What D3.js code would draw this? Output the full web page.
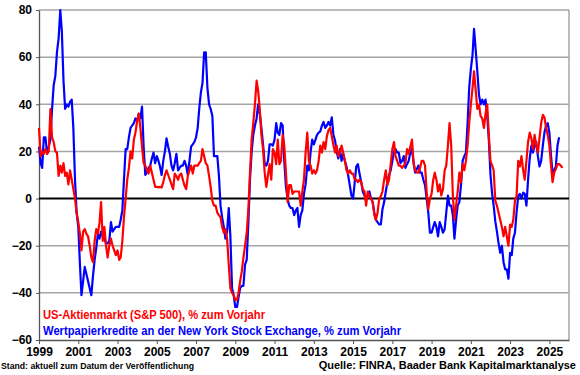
<!DOCTYPE html>
<html lang="de">
<head>
<meta charset="UTF-8">
<title>S&P 500 vs. Wertpapierkredite</title>
<script src="https://d3js.org/d3.v7.min.js"></script>
<style>
  body { margin: 0; background: #fff; }
  svg { display: block; font-family: "Liberation Sans", Arial, sans-serif; font-weight: bold; }
</style>
</head>
<body>
<script>
// monthly values, % yoy, starting January 1999
var startYear = 1999;

var sp500 = [
  30, 18, 20, 19, 21, 19, 20, 38, 26, 24, 20, 19.5,
  9.6, 14, 11, 15, 9.6, 11, 6, 12, 8, 4, 0, -6,
  -10, -15, -22, -14, -13, -15, -16, -20, -25, -27, -18, -13,
  -15, -10, -1.5, -18, -12, -20, -25, -20, -17, -20, -22, -24,
  -22, -26, -25, -18, -8, 0, 8, 13, 20, 17, 25, 28,
  33, 36, 30, 22, 15, 14, 12, 10.6, 14, 11, 8, 5,
  5, 4.7, 5, 4.7, 7, 10, 12, 10, 8, 6, 4, 10.6,
  9.5, 8, 10, 10.6, 8, 5.5, 4, 9.5, 12, 14, 10.6, 14,
  14, 14, 15, 16, 21, 18, 15, 14, 9.5, 4.7, -1, -3,
  -3, -6, -7, -8, -12, -14.5, -13, -17, -28, -38, -40, -41,
  -43, -43, -40, -35, -31, -25, -20, -14.5, -4.5, 11, 25, 32,
  40, 50, 46, 38, 27, 21, 11, 5, 10, 14.6, 8, 21,
  19.5, 14.6, 25, 14.6, 16, 27, 22.5, 11, -1.5, 5.7, 5.7, 2,
  3, 3, 3, 3, -3, 3, 8, 19.5, 28, 16, 14, 10.6,
  12, 10.6, 12, 16, 22.5, 19.5, 24, 21, 26.5, 29, 30, 26.5,
  22.5, 19.5, 22.5, 18, 19.5, 22.5, 19.5, 16, 12, 10.6, 12, 10.6,
  10.6, 8, 8, 7, 8, 7, 4, 3, -3, 3, 1, 0,
  -1.5, -7, -9, -6, 0, 1, 3, 8, 12, 5.7, 8, 14.6,
  21, 24, 18, 16, 14, 14, 13, 14, 15, 21, 19, 22,
  25, 15, 12, 11, 11, 13, 16, 16, 14, 3, -4.5, 0,
  2, 8, 11, 8, 3, 6, 1.3, 4, 12, 14, 22.5, 32,
  22.5, 1.3, -9, -3, 3, 11, 7, 14.6, 12, 16, 22.5, 32,
  40, 47, 54, 46, 38, 40, 35, 34, 30, 36, 40, 27,
  16, 14, 12, -1, -3, -6, -9, -12, -16, -12, -16, -20,
  -11, -12, -9, -1, 1, 16, 13.6, 18, 12, 8, 16, 24,
  28, 25.5, 21, 27, 22.5, 19.5, 25.5, 32, 35.5, 34.5, 30, 27,
  22.5, 14, 7, 11, 12.5, 14.6, 14.6, 14, 13
];

var marginDebt = [
  22, 15, 13, 26, 26, 19, 22, 25, 38, 48, 52, 62,
  68, 80, 71, 50, 38, 40, 39, 41, 42, 30, 8, -6,
  -12, -28, -41, -35, -29, -32, -35, -38, -41, -33, -26, -21,
  -15, -17, -14, -16, -17, -19, -19, -18, -10, -14, -13, -12,
  -12, -12, -9, -5, 8, 21, 21, 26, 30, 31, 32, 34,
  33, 36, 34, 39, 22, 10, 11, 13, 14, 17, 19.5, 15,
  18, 16, 13.6, 10, 16, 20, 25.5, 22, 19, 14, 12, 15,
  19, 12, 13, 14, 14, 16, 14, 10, 16, 22, 23, 24,
  26, 30, 38, 45, 49, 62, 62, 47, 40, 38, 35, 18,
  18, 18, 10, -3, -8, -12, -17, -14, -4, -16, -38, -41,
  -46, -46, -42, -38, -37, -37, -28, -26, -10, 8, 20, 27,
  31, 34, 40, 36, 30, 23, 15, 14, 16, 23, 23, 22.5,
  25, 32, 28, 27, 32, 31, 16, 5, 0, -3, -4, -4,
  -7, -5, -4, -12, -7, -5, 2, 6, 14, 12, 19.5, 25,
  23, 25, 27, 28, 28.5, 31, 32.5, 30, 31, 32.5, 31, 34.5,
  27, 24.5, 20, 17, 21, 16, 19, 16, 13.6, 10, 5.7, 1.3,
  0, 7, 13.6, 14.6, 10.6, 7, 3, 1.3, -0.6, 1.3, 3, 0,
  -1.5, -6, -9, -10, -11, -11, -4.5, -1.5, 3, 7, 10, 12,
  16, 20, 21, 19.5, 19.5, 15, 16, 18, 13, 14.6, 16, 19.5,
  21, 15, 11, 12.5, 14, 11, 11, 8, 5.7, 0, -6, -14.5,
  -14.5, -12, -10, -12, -16, -10, -12, -14.5, -13, -6, 1.3, -3,
  -3, -7, -17, -9, -3, -1.5, 5.7, 16, 18, 19.5, 32, 47,
  55, 61, 72, 63, 54, 44, 40, 42, 40, 42, 35, 25,
  10, 2, -3, -9.7, -14, -19, -23, -20, -27, -30, -30, -34,
  -23, -24, -17, -14.5, -6, 1, 2, 0, 2.5, 2, -3, 8,
  17, 22.5, 19.5, 22.5, 24, 18, 13.6, 16, 22.5, 28, 31, 32,
  28, 18, 11, 12, 13.6, 22.5, 26
];

var yTicks = [-60, -40, -20, 0, 20, 40, 60, 80];
var xTickYears = [1999, 2001, 2003, 2005, 2007, 2009, 2011, 2013, 2015, 2017, 2019, 2021, 2023, 2025];

var seriesLabels = [
  "US-Aktienmarkt (S&P 500), % zum Vorjahr",
  "Wertpapierkredite an der New York Stock Exchange, % zum Vorjahr"
];
var colors = ["#ff0000", "#0000ff"];

var width = 580, height = 375;
var plotLeft = 39, plotRight = 569, plotTop = 10, plotBottom = 340;

var svg = d3.select("body").append("svg")
    .attr("width", width)
    .attr("height", height);

var x = d3.scaleTime()
    .domain([new Date(1999, 0, 1), new Date(2026, 0, 1)])
    .range([plotLeft, plotRight]);

var y = d3.scaleLinear()
    .domain([-60, 80])
    .range([plotBottom, plotTop]);

function toPoints(arr) {
    return arr.map(function(v, i) {
        return { date: new Date(startYear, i, 1), value: v };
    });
}

// grid lines
svg.append("g")
    .selectAll("line")
    .data(yTicks.filter(function(d) { return d !== 0 && d !== -60; }))
    .enter().append("line")
    .attr("x1", plotLeft).attr("x2", plotRight)
    .attr("y1", function(d) { return y(d); })
    .attr("y2", function(d) { return y(d); })
    .style("stroke", "#a6a6a6")
    .style("stroke-width", 1.5);

// right frame
svg.append("line")
    .attr("x1", plotRight).attr("x2", plotRight)
    .attr("y1", plotTop).attr("y2", plotBottom)
    .style("stroke", "#a6a6a6")
    .style("stroke-width", 1.5);

// y axis
var yAxis = svg.append("g")
    .attr("transform", "translate(" + plotLeft + ",0)")
    .call(d3.axisLeft(y).tickValues(yTicks).tickSize(3).tickSizeOuter(0));
yAxis.select(".domain").style("stroke", "#555").style("stroke-width", 1.3);
yAxis.selectAll(".tick line").style("stroke", "#555");
yAxis.selectAll("text")
    .attr("x", -7)
    .style("font-size", "12px")
    .style("font-weight", "bold")
    .style("font-family", "'Liberation Sans', Arial, sans-serif")
    .style("fill", "#000");

// x axis
var xAxis = svg.append("g")
    .attr("transform", "translate(0," + plotBottom + ")")
    .call(d3.axisBottom(x)
        .tickValues(xTickYears.map(function(yr) { return new Date(yr, 0, 1); }))
        .tickFormat(d3.timeFormat("%Y"))
        .tickSize(4).tickSizeOuter(0));
xAxis.select(".domain").style("stroke", "#555").style("stroke-width", 1.3);
xAxis.selectAll(".tick line").style("stroke", "#555");
xAxis.selectAll("text")
    .attr("y", 7)
    .style("font-size", "12px")
    .style("font-weight", "bold")
    .style("font-family", "'Liberation Sans', Arial, sans-serif")
    .style("fill", "#000");

// zero line
svg.append("line")
    .attr("x1", plotLeft).attr("x2", plotRight)
    .attr("y1", y(0)).attr("y2", y(0))
    .style("stroke", "#000")
    .style("stroke-width", 2);

var line = d3.line()
    .x(function(d) { return x(d.date); })
    .y(function(d) { return y(d.value); });

// blue first, red on top
svg.append("path")
    .datum(toPoints(marginDebt))
    .attr("d", line)
    .style("fill", "none")
    .style("stroke", colors[1])
    .style("stroke-width", 2.2)
    .style("stroke-linejoin", "round");

svg.append("path")
    .datum(toPoints(sp500))
    .attr("d", line)
    .style("fill", "none")
    .style("stroke", colors[0])
    .style("stroke-width", 2.2)
    .style("stroke-linejoin", "round");

// legend
svg.append("text")
    .attr("x", 43).attr("y", 319)
    .attr("textLength", 222).attr("lengthAdjust", "spacingAndGlyphs")
    .style("font-size", "12.5px")
    .style("fill", colors[0])
    .text(seriesLabels[0]);

svg.append("text")
    .attr("x", 43).attr("y", 335)
    .attr("textLength", 358).attr("lengthAdjust", "spacingAndGlyphs")
    .style("font-size", "12.5px")
    .style("fill", colors[1])
    .text(seriesLabels[1]);

// footer
svg.append("text")
    .attr("x", 1).attr("y", 369)
    .attr("textLength", 193).attr("lengthAdjust", "spacingAndGlyphs")
    .style("font-size", "9px")
    .style("fill", "#000")
    .text("Stand: aktuell zum Datum der Veröffentlichung");

svg.append("text")
    .attr("x", 576).attr("y", 369)
    .attr("text-anchor", "end")
    .style("font-size", "11px")
    .style("fill", "#000")
    .text("Quelle: FINRA, Baader Bank Kapitalmarktanalyse");
</script>
</body>
</html>
